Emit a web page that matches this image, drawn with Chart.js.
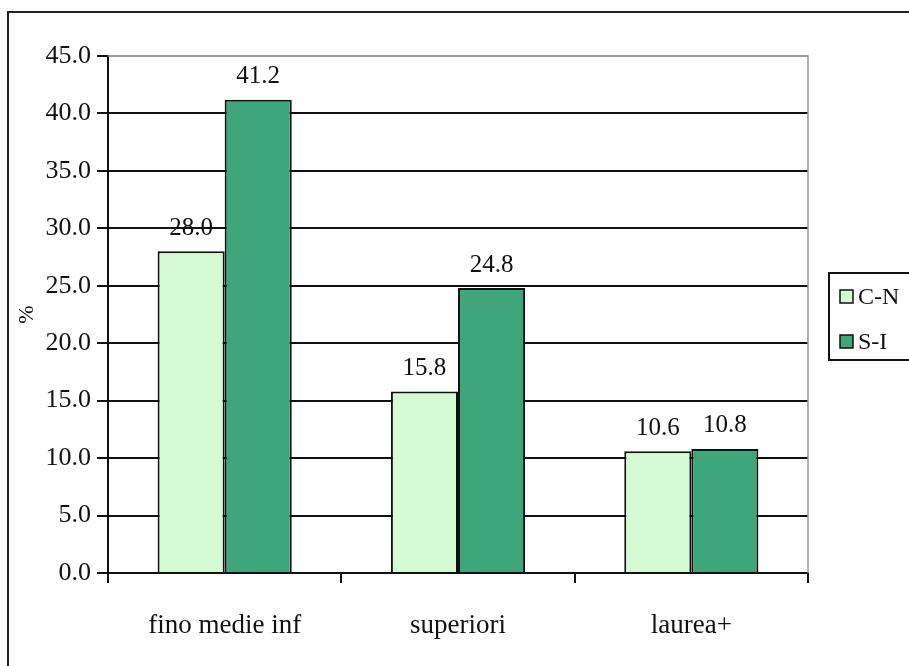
<!DOCTYPE html>
<html>
<head>
<meta charset="utf-8">
<script src="https://cdn.jsdelivr.net/npm/chart.js@4.4.1/dist/chart.umd.min.js"></script>
<style>
  body { margin: 0; background: #fff; }
</style>
</head>
<body>
<canvas id="chart" width="909" height="666"></canvas>
<script>
// titolo di studio, quote percentuali per area
var categories = ["fino medie inf", "superiori", "laurea+"];
var seriesNames = ["C-N", "S-I"];
var valuesCN = [28.0, 15.8, 10.6];
var valuesSI = [41.2, 24.8, 10.8];
var seriesColors = ["#D4FBD4", "#3EA67A"];

var serif = "'Liberation Serif', 'Times New Roman', serif";

// cornice esterna, bordo area grafico, etichette dei valori e legenda
var decorations = {
    id: "decorations",
    beforeDraw: function(chart) {
        var c = chart.ctx;
        c.save();
        c.strokeStyle = "#222";
        c.lineWidth = 2;
        c.strokeRect(8, 12, chart.width + 10, chart.height + 10);
        c.restore();
    },
    beforeDatasetsDraw: function(chart) {
        var a = chart.chartArea;
        var c = chart.ctx;
        c.save();
        c.strokeStyle = "#999";
        c.lineWidth = 1.5;
        c.beginPath();
        c.moveTo(a.left, a.top);
        c.lineTo(a.right, a.top);
        c.lineTo(a.right, a.bottom);
        c.stroke();
        c.restore();
    },
    afterDatasetsDraw: function(chart) {
        var c = chart.ctx;
        c.save();
        c.font = "25px " + serif;
        c.fillStyle = "#111";
        c.textAlign = "center";
        c.textBaseline = "middle";
        chart.data.datasets.forEach(function(ds, i) {
            chart.getDatasetMeta(i).data.forEach(function(bar, j) {
                c.fillText(ds.data[j].toFixed(1), bar.x, bar.y - 23);
            });
        });

        // legenda
        var lx = 829, ly = 273;
        c.strokeStyle = "#111";
        c.lineWidth = 2;
        c.strokeRect(lx, ly, 100, 87);
        c.textAlign = "left";
        c.font = "24px " + serif;
        chart.data.datasets.forEach(function(ds, i) {
            var y = ly + 24 + i * 45;
            c.fillStyle = ds.backgroundColor;
            c.fillRect(lx + 11, y - 7, 13, 13);
            c.lineWidth = 1.5;
            c.strokeRect(lx + 11, y - 7, 13, 13);
            c.fillStyle = "#111";
            c.fillText(ds.label, lx + 29, y + 1);
        });
        c.restore();
    }
};

var ctx = document.getElementById("chart");

var chart = new Chart(ctx, {
    type: "bar",
    data: {
        labels: categories,
        datasets: [
            {
                label: seriesNames[0],
                data: valuesCN,
                backgroundColor: seriesColors[0],
                borderColor: "#111",
                borderWidth: 2
            },
            {
                label: seriesNames[1],
                data: valuesSI,
                backgroundColor: seriesColors[1],
                borderColor: "#111",
                borderWidth: 2
            }
        ]
    },
    options: {
        responsive: false,
        animation: false,
        layout: {
            padding: { left: 0, right: 101, top: 56, bottom: 0 }
        },
        plugins: {
            legend: { display: false },
            tooltip: { enabled: false }
        },
        datasets: {
            bar: { categoryPercentage: 0.575, barPercentage: 1.0 }
        },
        scales: {
            x: {
                afterFit: function(scale) { scale.height = 93; },
                grid: {
                    offset: true,
                    drawOnChartArea: false,
                    drawTicks: true,
                    tickLength: 10,
                    color: "#111",
                    lineWidth: 2
                },
                border: { color: "#111", width: 2 },
                ticks: {
                    padding: 27,
                    color: "#111",
                    font: { family: serif, size: 27 }
                }
            },
            y: {
                min: 0,
                max: 45,
                afterFit: function(scale) { scale.width = 108; },
                grid: {
                    color: function(context) {
                        return context.tick && context.tick.value === 45 ? "#999" : "#111";
                    },
                    lineWidth: 2,
                    tickLength: 11,
                    tickColor: "#111"
                },
                border: { color: "#111", width: 2 },
                ticks: {
                    stepSize: 5,
                    padding: 6,
                    color: "#111",
                    font: { family: serif, size: 26 },
                    callback: function(v) { return v.toFixed(1); }
                },
                title: {
                    display: true,
                    text: "%",
                    color: "#111",
                    padding: { top: 14, bottom: 0 },
                    font: { family: serif, size: 22 }
                }
            }
        }
    },
    plugins: [decorations]
});
</script>
</body>
</html>
